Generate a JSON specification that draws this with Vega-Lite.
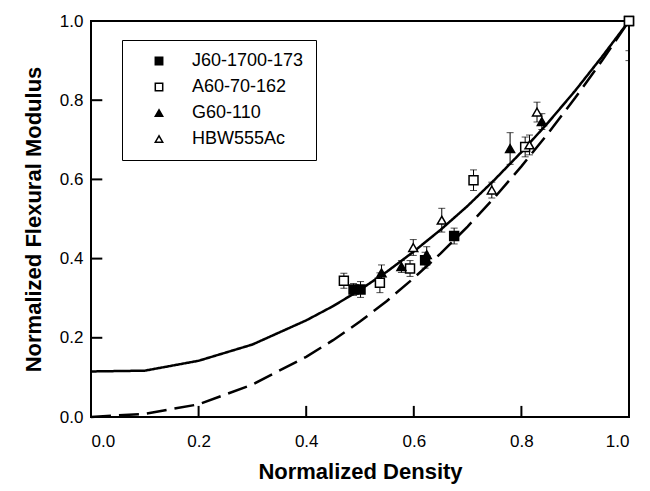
{
  "$schema": "https://vega.github.io/schema/vega-lite/v6.json",
  "autosize": {"type": "none"},
  "padding": {"left": 91, "top": 21, "right": 21, "bottom": 74},
  "width": 538,
  "height": 396,
  "background": "white",
  "config": {
    "font": "Liberation Sans",
    "view": {"stroke": "black", "strokeWidth": 2},
    "axis": {"grid": false, "domain": false, "ticks": false, "labelColor": "black", "labelFontSize": 17, "labelFont": "Liberation Sans", "titleFont": "Liberation Sans", "titleFontSize": 22, "titleFontWeight": "bold", "titleColor": "black"}
  },
  "datasets": {
    "tickvals": [{"v": 0.2}, {"v": 0.4}, {"v": 0.6}, {"v": 0.8}],
    "curves": [
      {"curve": "model", "x": 0.0, "y": 0.115},
      {"curve": "model", "x": 0.1, "y": 0.117},
      {"curve": "model", "x": 0.2, "y": 0.142},
      {"curve": "model", "x": 0.3, "y": 0.183},
      {"curve": "model", "x": 0.4, "y": 0.244},
      {"curve": "model", "x": 0.45, "y": 0.28},
      {"curve": "model", "x": 0.5, "y": 0.321},
      {"curve": "model", "x": 0.55, "y": 0.367},
      {"curve": "model", "x": 0.6, "y": 0.418},
      {"curve": "model", "x": 0.65, "y": 0.473},
      {"curve": "model", "x": 0.7, "y": 0.533},
      {"curve": "model", "x": 0.75, "y": 0.599},
      {"curve": "model", "x": 0.8, "y": 0.669},
      {"curve": "model", "x": 0.85, "y": 0.744},
      {"curve": "model", "x": 0.9, "y": 0.824},
      {"curve": "model", "x": 0.95, "y": 0.91},
      {"curve": "model", "x": 1.0, "y": 1.0},
      {"curve": "power", "x": 0.0, "y": 0.0},
      {"curve": "power", "x": 0.1, "y": 0.008},
      {"curve": "power", "x": 0.2, "y": 0.032},
      {"curve": "power", "x": 0.3, "y": 0.082},
      {"curve": "power", "x": 0.4, "y": 0.152},
      {"curve": "power", "x": 0.45, "y": 0.194},
      {"curve": "power", "x": 0.5, "y": 0.241},
      {"curve": "power", "x": 0.55, "y": 0.293},
      {"curve": "power", "x": 0.6, "y": 0.351},
      {"curve": "power", "x": 0.65, "y": 0.413},
      {"curve": "power", "x": 0.7, "y": 0.481},
      {"curve": "power", "x": 0.75, "y": 0.554},
      {"curve": "power", "x": 0.8, "y": 0.633},
      {"curve": "power", "x": 0.85, "y": 0.717},
      {"curve": "power", "x": 0.9, "y": 0.806},
      {"curve": "power", "x": 0.95, "y": 0.9},
      {"curve": "power", "x": 1.0, "y": 1.0}
    ],
    "pts": [
      {"series": "J60-1700-173", "x": 0.488, "y": 0.322, "err": 0.015},
      {"series": "J60-1700-173", "x": 0.501, "y": 0.322, "err": 0.02},
      {"series": "J60-1700-173", "x": 0.621, "y": 0.396, "err": 0.02},
      {"series": "J60-1700-173", "x": 0.675, "y": 0.457, "err": 0.02},
      {"series": "J60-1700-173", "x": 1.0, "y": 1.0, "err": 0.075},
      {"series": "A60-70-162", "x": 0.47, "y": 0.344, "err": 0.019},
      {"series": "A60-70-162", "x": 0.537, "y": 0.339, "err": 0.025},
      {"series": "A60-70-162", "x": 0.593, "y": 0.375, "err": 0.02},
      {"series": "A60-70-162", "x": 0.711, "y": 0.598, "err": 0.026},
      {"series": "A60-70-162", "x": 0.807, "y": 0.682, "err": 0.025},
      {"series": "A60-70-162", "x": 1.0, "y": 1.0, "err": 0.1},
      {"series": "G60-110", "x": 0.54, "y": 0.364, "err": 0.02},
      {"series": "G60-110", "x": 0.577, "y": 0.38, "err": 0.015},
      {"series": "G60-110", "x": 0.624, "y": 0.41, "err": 0.02},
      {"series": "G60-110", "x": 0.779, "y": 0.678, "err": 0.04},
      {"series": "G60-110", "x": 0.838, "y": 0.746, "err": 0.02},
      {"series": "HBW555Ac", "x": 0.599, "y": 0.428, "err": 0.02},
      {"series": "HBW555Ac", "x": 0.652, "y": 0.497, "err": 0.03},
      {"series": "HBW555Ac", "x": 0.745, "y": 0.573, "err": 0.02},
      {"series": "HBW555Ac", "x": 0.815, "y": 0.687, "err": 0.025},
      {"series": "HBW555Ac", "x": 0.829, "y": 0.77, "err": 0.025}
    ]
  },
  "layer": [
    {
      "data": {"name": "curves"},
      "mark": {"type": "line", "color": "black", "strokeWidth": 2.5},
      "encoding": {
        "x": {"field": "x", "type": "quantitative", "title": "Normalized Density", "scale": {"domain": [0, 1], "nice": false},
              "axis": {"values": [0, 0.2, 0.4, 0.6, 0.8, 1.0], "format": ".1f", "labelPadding": 16, "titleY": 54, "titleBaseline": "middle"}},
        "y": {"field": "y", "type": "quantitative", "title": "Normalized Flexural Modulus", "scale": {"domain": [0, 1], "nice": false},
              "axis": {"values": [0, 0.2, 0.4, 0.6, 0.8, 1.0], "format": ".1f", "labelPadding": 8, "titleX": -58, "titleY": 198, "titleBaseline": "middle"}},
        "strokeDash": {"field": "curve", "type": "nominal", "scale": {"domain": ["model", "power"], "range": [[1, 0], [20, 8]]}, "legend": null}
      }
    },
    {
      "data": {"name": "tickvals"},
      "mark": {"type": "rule", "color": "black", "strokeWidth": 2, "opacity": 1},
      "encoding": {
        "x": {"field": "v", "type": "quantitative"},
        "y": {"datum": 0},
        "y2": {"datum": 0.028}
      }
    },
    {
      "data": {"name": "tickvals"},
      "mark": {"type": "rule", "color": "black", "strokeWidth": 2, "opacity": 1},
      "encoding": {
        "y": {"field": "v", "type": "quantitative"},
        "x": {"datum": 0},
        "x2": {"datum": 0.021}
      }
    },
    {
      "data": {"name": "pts"},
      "mark": {"type": "errorbar", "clip": true, "ticks": {"size": 7, "color": "black", "thickness": 1}, "rule": {"color": "black", "strokeWidth": 1}},
      "encoding": {
        "x": {"field": "x", "type": "quantitative", "title": "Normalized Density"},
        "y": {"field": "y", "type": "quantitative", "title": "Normalized Flexural Modulus"},
        "yError": {"field": "err"}
      }
    },
    {
      "data": {"name": "pts"},
      "mark": {"type": "point", "filled": true, "stroke": "black", "strokeWidth": 1.5, "opacity": 1, "size": 80},
      "encoding": {
        "x": {"field": "x", "type": "quantitative", "title": "Normalized Density"},
        "y": {"field": "y", "type": "quantitative", "title": "Normalized Flexural Modulus"},
        "shape": {"field": "series", "type": "nominal", "scale": {"domain": ["J60-1700-173", "A60-70-162", "G60-110", "HBW555Ac"], "range": ["square", "square", "triangle-up", "triangle-up"]},
                  "legend": {"title": null, "orient": "none", "legendX": 31, "legendY": 19, "padding": 12, "symbolOffset": 16, "labelOffset": 24, "rowPadding": 8, "labelFontSize": 18, "labelColor": "black", "labelFont": "Liberation Sans", "strokeColor": "black", "fillColor": "white", "symbolSize": 55,
                             "encode": {"symbols": {"update": {"stroke": {"value": "black"}, "strokeWidth": {"value": 1.5}, "opacity": {"value": 1}}}}}},
        "fill": {"field": "series", "type": "nominal", "scale": {"domain": ["J60-1700-173", "A60-70-162", "G60-110", "HBW555Ac"], "range": ["black", "white", "black", "white"]},
                 "legend": {"title": null, "orient": "none", "legendX": 31, "legendY": 19, "padding": 12, "symbolOffset": 16, "labelOffset": 24, "rowPadding": 8, "labelFontSize": 18, "labelColor": "black", "labelFont": "Liberation Sans", "strokeColor": "black", "fillColor": "white", "symbolSize": 55,
                            "encode": {"symbols": {"update": {"stroke": {"value": "black"}, "strokeWidth": {"value": 1.5}, "opacity": {"value": 1}}}}}}
      }
    }
  ]
}
